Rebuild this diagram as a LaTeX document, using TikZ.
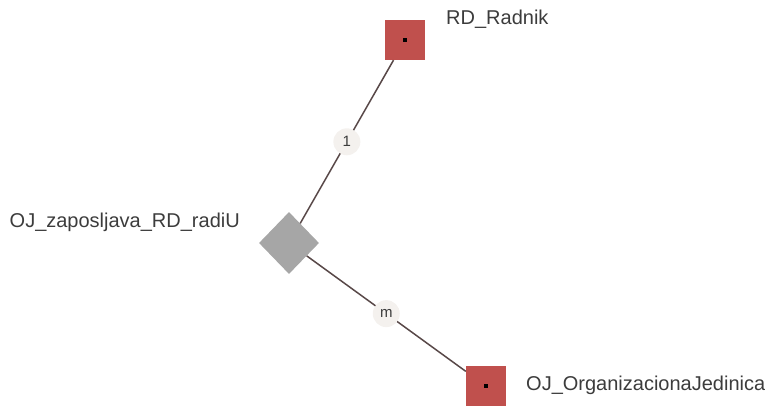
\documentclass[tikz,border=0pt]{standalone}
\usepackage{fontspec}
\setmainfont{Liberation Sans}
\usetikzlibrary{shapes.geometric,positioning}

\definecolor{entityred}{HTML}{C0504D}
\definecolor{relgray}{HTML}{A6A6A6}
\definecolor{linkbrown}{HTML}{584848}
\definecolor{cardbg}{HTML}{F4F1EE}
\definecolor{labelgray}{HTML}{3C3C3C}

\begin{document}
\begin{tikzpicture}[x=1pt,y=-1pt]
    \tikzset{entity/.style={fill=entityred,minimum size=40pt,inner sep=0pt},
      relship/.style={diamond,fill=relgray,minimum width=60pt,minimum height=62pt,inner sep=0pt},
      card/.style={circle,fill=cardbg,minimum size=27pt,inner sep=0pt,text=labelgray,font=\fontsize{15}{15}\selectfont},
      caption/.style={text=labelgray,font=\fontsize{20}{23}\selectfont,inner sep=0pt}}
    \useasboundingbox (0,0) rectangle (765,406);
    \node[relship] (rel) at (289,243) {};
    \node[entity] (rad) at (405,40) {};
    \node[entity] (oj) at (486,386) {};
    \fill ([shift={(-1.6,-1.6)}]rad.center) rectangle ([shift={(1.6,1.6)}]rad.center);
    \fill ([shift={(-1.6,-1.6)}]oj.center) rectangle ([shift={(1.6,1.6)}]oj.center);
    \path[draw=linkbrown,line width=1.5pt]
      (rel) -- node[card] {1} (rad)
      (rel) -- node[card] {m} (oj);
    \node[caption,anchor=base west] (radName) at (446,25) {RD\_Radnik};
    \node[caption,anchor=base west] (ojName) at (526,390) {OJ\_OrganizacionaJedinica};
    \node[caption,anchor=base east] (relName) at (240,227) {OJ\_zaposljava\_RD\_radiU};
  \end{tikzpicture}
\end{document}
